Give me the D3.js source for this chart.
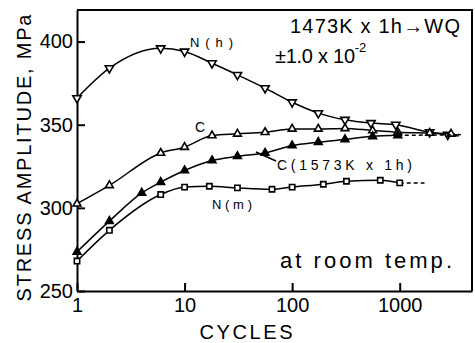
<!DOCTYPE html>
<html>
<head>
<meta charset='utf-8'>
<style>
body { margin: 0; background: #fff; }
text { font-family: 'Liberation Sans', Arial, sans-serif; fill: #000; }
.axis path, .axis line { stroke: #000; stroke-width: 2px; }
.axis text { font-size: 20px; font-family: 'Liberation Sans', Arial, sans-serif; }
.frame { fill: none; stroke: #000; stroke-width: 2px; }
.curve { fill: none; stroke: #000; stroke-width: 1.5px; }
.tail { fill: none; stroke: #000; stroke-width: 1.5px; stroke-dasharray: 4,3; }
</style>
<script src='https://d3js.org/d3.v7.min.js'></script>
</head>
<body>
<svg id='chart1' width='475' height='343'></svg>
<script>
// values (cycles, stress amplitude in MPa)
var nhCycles = [1, 2, 6, 10, 18, 31, 56, 100, 175, 310, 540, 920, 1900, 2800];
var nhStress = [366, 384, 396, 394, 387, 380, 372, 363.5, 357, 353, 351, 350, 345.5, 344];
var nhTail = [3700, 343];

var cCycles = [1, 2, 6, 10, 18, 31, 56, 100, 175, 310, 560, 960, 1900, 3000];
var cStress = [302.5, 313.5, 333, 336.5, 343.5, 344.5, 345.5, 347.5, 347.5, 347.8, 346.5, 345.5, 345, 344.5];
var cTail = [3700, 344];

var c2Cycles = [1, 2, 4, 6, 10, 18, 31, 56, 100, 175, 310, 560, 960];
var c2Stress = [273.5, 292, 309, 315.5, 322.5, 328.5, 331, 333, 337.5, 339.5, 341.2, 343, 343.6];
var c2Tail = [3700, 344];

var nmCycles = [1, 2, 6, 10, 17, 31, 65, 100, 195, 320, 660, 1000];
var nmStress = [268, 286.5, 308, 312.5, 313, 312, 311.2, 312.5, 314.2, 316, 316.6, 315];
var nmTail = [1700, 315];

var xTicks = [1, 10, 100, 1000];
var yTicks = [250, 300, 350, 400];

var chart1 = d3.select('svg');
var margin = {top: 10, right: 3, bottom: 52, left: 77};
var width = +chart1.attr('width') - margin.left - margin.right;
var height = +chart1.attr('height') - margin.top - margin.bottom;

var g = chart1.append('g').attr('transform',
    'translate(' + margin.left + ',' + margin.top + ')');

var x = d3.scaleLog().domain([1, 4700]).range([0, width]);
var y = d3.scaleLinear().domain([250, 419]).range([height, 0]);

// frame: top and right
g.append('path').attr('class', 'frame')
    .attr('d', 'M0,0H' + width + 'V' + height);

g.append('g').attr('class', 'axis')
    .attr('transform', 'translate(0,' + height + ')')
    .call(d3.axisBottom(x).tickValues(xTicks).tickFormat(d3.format('d'))
      .tickSizeInner(-8).tickSizeOuter(0).tickPadding(7));

g.append('g').attr('class', 'axis')
    .call(d3.axisLeft(y).tickValues(yTicks)
      .tickSizeInner(-8).tickSizeOuter(0).tickPadding(4));

g.selectAll('.axis text').attr('fill', '#000');

var line = d3.line()
    .x(function(d) { return x(d[0]); })
    .y(function(d) { return y(d[1]); })
    .curve(d3.curveMonotoneX);

function series(cycles, stress, tail, sym, size, rot, fill) {
  var pts = cycles.map(function(c, i) { return [c, stress[i]]; });
  g.append('path').datum(pts).attr('class', 'curve').attr('d', line);
  g.append('path').datum([pts[pts.length - 1], tail])
      .attr('class', 'tail').attr('d', d3.line()
        .x(function(d) { return x(d[0]); })
        .y(function(d) { return y(d[1]); }));
  g.append('g').selectAll('path').data(pts).enter().append('path')
      .attr('transform', function(d) {
        return 'translate(' + x(d[0]) + ',' + y(d[1]) + ') rotate(' + rot + ')';
      })
      .attr('d', d3.symbol().type(sym).size(size))
      .attr('fill', fill)
      .attr('stroke', '#000')
      .attr('stroke-width', 1.6);
}

series(nhCycles, nhStress, nhTail, d3.symbolTriangle, 30, 180, '#fff');
series(cCycles, cStress, cTail, d3.symbolTriangle, 26, 0, '#fff');
series(c2Cycles, c2Stress, c2Tail, d3.symbolTriangle, 26, 0, '#000');
series(nmCycles, nmStress, nmTail, d3.symbolSquare, 28, 0, '#fff');

// curve labels
function label(txt, px, py, size, len) {
  return chart1.append('text').attr('x', px).attr('y', py)
      .style('font-size', size + 'px')
      .attr('textLength', len).attr('lengthAdjust', 'spacing')
      .text(txt);
}
label('N(h)', 190, 47, 13, 43);
label('C', 195, 132, 14, 11);
label('C(1573K x 1h)', 277, 170, 14, 135);
label('N(m)', 212, 209, 13, 40);
label('1473K x 1h\u2192WQ', 290, 33, 20, 170);
label('at room temp.', 280, 268, 22, 172);

var pm = chart1.append('text').attr('x', 275).attr('y', 63).style('font-size', '20px');
pm.append('tspan').attr('textLength', 80).attr('lengthAdjust', 'spacing').text('\u00b11.0 x 10');
pm.append('tspan').attr('dy', -11).style('font-size', '13px').text('-2');

// leader for C(1573K x 1h)
chart1.append('path').attr('class', 'curve')
    .attr('d', 'M276,161L256,152');

chart1.append('text')
    .attr('x', 246).attr('y', 339)
    .attr('text-anchor', 'middle')
    .style('font-size', '20px')
    .attr('textLength', 93).attr('lengthAdjust', 'spacing')
    .text('CYCLES');

chart1.append('text')
    .attr('transform', 'translate(31,158) rotate(-90)')
    .attr('text-anchor', 'middle')
    .style('font-size', '20px')
    .attr('textLength', 287).attr('lengthAdjust', 'spacing')
    .text('STRESS AMPLITUDE, MPa');
</script>
</body>
</html>
